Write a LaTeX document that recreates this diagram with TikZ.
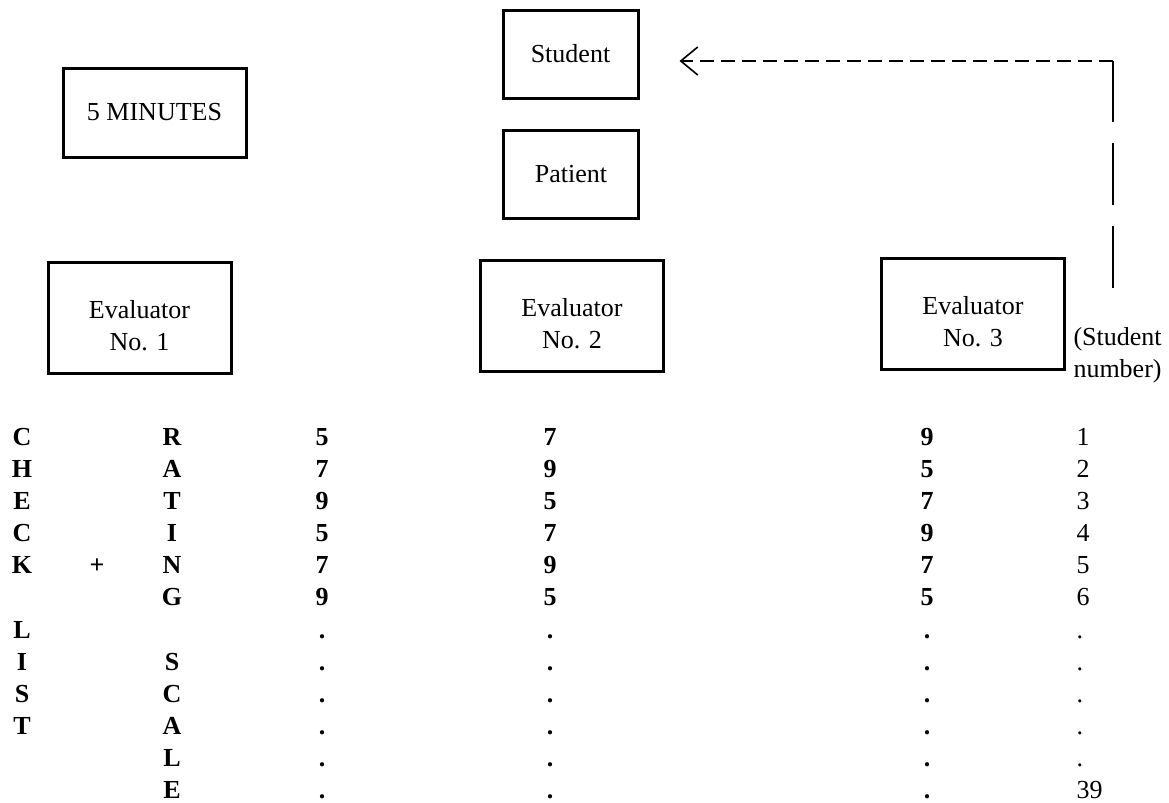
\documentclass[tikz,border=0pt]{standalone}
\usepackage{fontspec}
\setmainfont{Liberation Serif}
\usetikzlibrary{arrows.meta}

\begin{document}
\begin{tikzpicture}[x = 0.5pt, y = -0.5pt, >= {Straight Barb[length = 8.5pt, width = 14pt]}, line width = 1.5pt, font = \fontsize{13}{16}\selectfont]
    \tikzstyle{block} = [draw, shape = rectangle, align = center, inner sep = 1pt, minimum width = 91.5pt, minimum height = 55.5pt]
    \tikzstyle{small} = [block, minimum width = 67.5pt, minimum height = 44pt]
    \tikzstyle{cell} = [anchor = base, inner sep = 0pt, font = \fontsize{13}{16}\selectfont\bfseries]
    \tikzstyle{numcell} = [anchor = base west, inner sep = 0pt]
    \tikzstyle{link} = [line width = 0.8pt]

    \useasboundingbox (0,0) rectangle (1169,803);

    \node[block, minimum height = 44.5pt] (time) at (154.5,112.5) {5 MINUTES};
    \node[small] (student) at (570.5,54) {Student};
    \node[small] (patient) at (571,174.5) {Patient};
    \node[block] (eval1) at (139.5,317.5) {\rule{0pt}{17pt}Evaluator\\No. 1};
    \node[block] (eval2) at (572,316) {\rule{0pt}{17pt}Evaluator\\No. 2};
    \node[block] (eval3) at (973,314) {\rule{0pt}{17pt}Evaluator\\No. 3};
    \node[anchor = north west, align = left, inner sep = 0pt] (stnum) at (1072,326) {(Student\\number)};

    \coordinate (loopstart) at (1113,288);
    \coordinate (loopcorner) at (1113,61);
    \draw[link, dash pattern = on 31pt off 10.5pt] (loopstart) -- (loopcorner);
    \draw[link, ->, dash pattern = on 7pt off 3.5pt, shorten > = 20pt] (loopcorner) -- (student.east |- loopcorner);

    % check list + rating scale
    \foreach \ltr [count = \i] in {C,H,E,C,K,{},L,I,S,T}
        \node[cell] (check\i) at (22, {\i < 7 ? 445 + 32*(\i-1) : 638 + 32*(\i-7)}) {\ltr};
    \node[cell] (plus) at (97,573) {+};
    \foreach \ltr [count = \i] in {R,A,T,I,N,G,{},S,C,A,L,E}
        \node[cell] (rate\i) at (172, {\i < 7 ? 445 + 32*(\i-1) : 638 + 32*(\i-7)}) {\ltr};

    % scores of the three evaluators
    \foreach \val [count = \i] in {5,7,9,5,7,9,.,.,.,.,.,.}
        \node[cell] (evone\i) at (322, {\i < 7 ? 445 + 32*(\i-1) : 638 + 32*(\i-7)}) {\val};
    \foreach \val [count = \i] in {7,9,5,7,9,5,.,.,.,.,.,.}
        \node[cell] (evtwo\i) at (550, {\i < 7 ? 445 + 32*(\i-1) : 638 + 32*(\i-7)}) {\val};
    \foreach \val [count = \i] in {9,5,7,9,7,5,.,.,.,.,.,.}
        \node[cell] (evthree\i) at (927, {\i < 7 ? 445 + 32*(\i-1) : 638 + 32*(\i-7)}) {\val};
    \foreach \val [count = \i] in {1,2,3,4,5,6,.,.,.,.,.,39}
        \node[numcell] (num\i) at (1075, {\i < 7 ? 445 + 32*(\i-1) : 638 + 32*(\i-7)}) {\val};
\end{tikzpicture}
\end{document}
